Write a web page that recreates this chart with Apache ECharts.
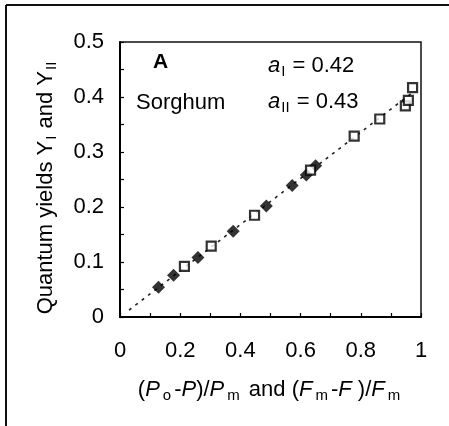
<!DOCTYPE html>
<html>
<head>
<meta charset="utf-8">
<script src="https://cdn.jsdelivr.net/npm/echarts@6/dist/echarts.min.js"></script>
<style>
  html, body { margin: 0; padding: 0; background: #fff; }
  #chart { width: 449px; height: 426px; }
</style>
</head>
<body>
<div id="chart"></div>
<script>
// Photosystem I quantum yield vs (Po-P)/Pm
const yIx = [0.128, 0.178, 0.259, 0.376, 0.486, 0.572, 0.619, 0.650];
const yIy = [0.054, 0.076, 0.108, 0.156, 0.202, 0.239, 0.258, 0.275];
// Photosystem II quantum yield vs (Fm-F)/Fm
const yIIx = [0.214, 0.303, 0.447, 0.633, 0.778, 0.863, 0.948, 0.958, 0.972];
const yIIy = [0.092, 0.129, 0.185, 0.267, 0.329, 0.360, 0.384, 0.394, 0.417];
// common regression line through the origin
const fitX = [0.03, 0.97];
const fitSlope = 0.42;
// axis ticks and labels
const xTickValues = [0, 0.1, 0.2, 0.3, 0.4, 0.5, 0.6, 0.7, 0.8, 0.9, 1];
const xLabelValues = [0, 0.2, 0.4, 0.6, 0.8, 1];
const yTickValues = [0, 0.05, 0.1, 0.15, 0.2, 0.25, 0.3, 0.35, 0.4, 0.45, 0.5];
const yLabelValues = [0, 0.1, 0.2, 0.3, 0.4, 0.5];
const slopeI = '0.42';
const slopeII = '0.43';

const FONT = "'Liberation Sans', Arial, sans-serif";
const INK = '#000';

const pairs = (xs, ys) => xs.map((x, i) => [x, ys[i]]);
const fitLine = fitX.map(x => [x, fitSlope * x]);

const subRich = {
  t: { fontSize: 22, fontFamily: FONT, color: INK, lineHeight: 27 },
  i: { fontSize: 22, fontFamily: FONT, color: INK, fontStyle: 'italic', lineHeight: 27 },
  s: { fontSize: 15, fontFamily: FONT, color: INK, padding: [12, 1, 0, 1], lineHeight: 15 }
};
// wider spacing around the subscripts of the x-axis title
const xTitleRich = Object.assign({}, subRich, {
  s: { fontSize: 15, fontFamily: FONT, color: INK, padding: [12, 3, 0, 3], lineHeight: 15 }
});

const chart = echarts.init(document.getElementById('chart'), null, { renderer: 'canvas' });

chart.setOption({
  backgroundColor: '#fff',
  animation: false,
  grid: {
    left: 120, right: 28, top: 42, bottom: 109,
    show: true, borderColor: '#111', borderWidth: 1.5, backgroundColor: 'transparent'
  },
  xAxis: {
    type: 'value', min: 0, max: 1,
    axisLine: { show: true, onZero: false, lineStyle: { color: INK, width: 2 } },
    axisTick: { show: true, inside: true, length: 4, customValues: xTickValues, lineStyle: { color: INK, width: 1.2 } },
    axisLabel: {
      customValues: xLabelValues, margin: 23,
      fontSize: 22, fontFamily: FONT, color: INK,
      formatter: v => String(v)
    },
    splitLine: { show: false },
    name: '{t|(}{i|P}{s|o}{t|-}{i|P}{t|)/}{i|P}{s|m}{t| and (}{i|F}{s|m}{t|-}{i|F}{t| )/}{i|F}{s|m}',
    nameLocation: 'middle', nameGap: 59,
    nameTextStyle: { rich: xTitleRich }
  },
  yAxis: {
    type: 'value', min: 0, max: 0.5,
    axisLine: { show: true, onZero: false, lineStyle: { color: INK, width: 2 } },
    axisTick: { show: true, inside: true, length: 4, customValues: yTickValues, lineStyle: { color: INK, width: 1.2 } },
    axisLabel: {
      customValues: yLabelValues, margin: 16,
      fontSize: 22, fontFamily: FONT, color: INK,
      formatter: v => String(v)
    },
    splitLine: { show: false },
    name: '{t|Quantum yields Y}{s|I}{t| and Y}{s|II}',
    nameLocation: 'middle', nameGap: 61, nameRotate: 90,
    nameTextStyle: { rich: subRich, padding: [0, 16, 0, 0] }
  },
  series: [
    {
      name: 'fit', type: 'line', data: fitLine, showSymbol: false, silent: true,
      lineStyle: { color: '#222', width: 1.6, type: [3, 5] }, z: 1
    },
    {
      name: 'Y_I', type: 'scatter', data: pairs(yIx, yIy),
      symbol: 'diamond', symbolSize: 13,
      itemStyle: { color: '#000' }, z: 2
    },
    {
      name: 'Y_II', type: 'scatter', data: pairs(yIIx, yIIy),
      symbol: 'rect', symbolSize: 9,
      itemStyle: { color: '#fff', borderColor: '#000', borderWidth: 2.2 }, z: 3
    }
  ],
  graphic: [
    // outer panel frame (top and left edges)
    { type: 'line', shape: { x1: 6, y1: 5, x2: 449, y2: 5 }, style: { stroke: '#111', lineWidth: 2 } },
    { type: 'line', shape: { x1: 6, y1: 5, x2: 6, y2: 426 }, style: { stroke: '#111', lineWidth: 2 } },
    {
      type: 'text', left: 153, top: 52,
      style: { text: 'A', font: "bold 21px 'Liberation Sans', Arial, sans-serif", fill: INK }
    },
    {
      type: 'text', left: 136, top: 92,
      style: { text: 'Sorghum', font: "22px 'Liberation Sans', Arial, sans-serif", fill: INK }
    },
    {
      type: 'text', left: 268, top: 52,
      style: {
        text: '{i|a}{s|I}{t| = ' + slopeI + '}',
        rich: subRich
      }
    },
    {
      type: 'text', left: 268, top: 88,
      style: {
        text: '{i|a}{s|II}{t| = ' + slopeII + '}',
        rich: subRich
      }
    }
  ]
});
</script>
</body>
</html>
